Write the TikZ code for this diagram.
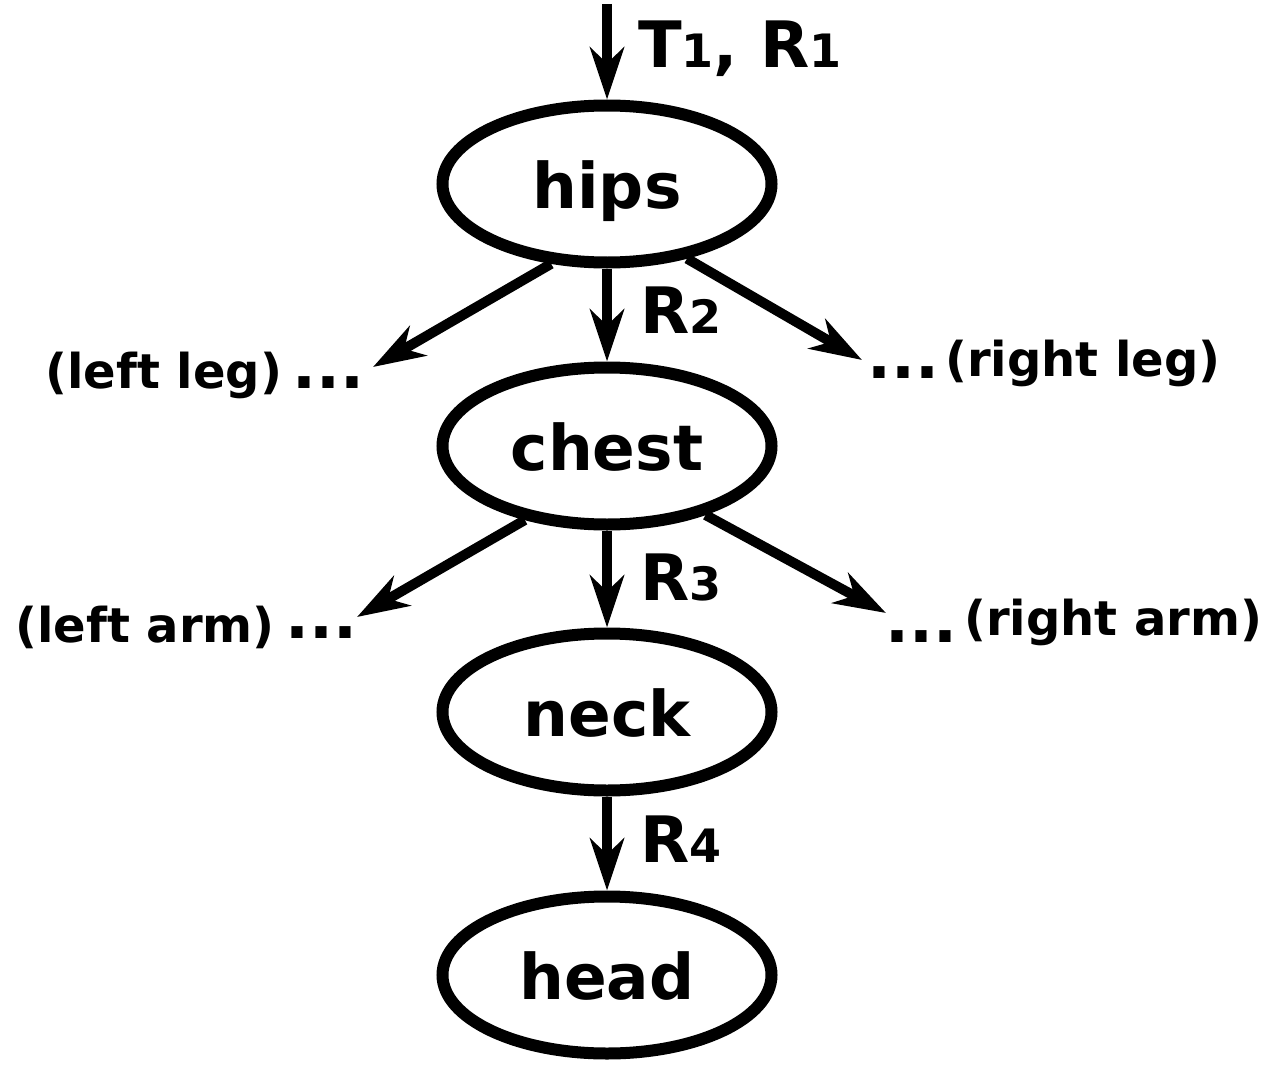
\documentclass[tikz,border=0pt]{standalone}
\usepackage{fontspec}
\setmainfont{DejaVu Sans}
\usetikzlibrary{shapes.geometric,arrows.meta}
\newcommand\subd[1]{{\fontsize{46}{46}\selectfont #1}}
\begin{document}
\begin{tikzpicture}[x=1pt,y=-1pt,
 part/.style={ellipse,draw,line width=12pt,minimum width=329pt,minimum height=157pt,inner sep=0pt,font=\fontsize{63}{63}\selectfont\bfseries,text height=48pt,text depth=0pt},
 conn/.style={line width=10pt,-{Stealth[length=52pt,width=34pt,inset=16pt]}},
 lab/.style={anchor=base west,inner sep=0pt,font=\fontsize{64}{64}\selectfont\bfseries},
 side/.style={anchor=base west,inner sep=0pt,font=\fontsize{48}{48}\selectfont\bfseries},
 dotsx/.style={anchor=base west,inner sep=0pt,font=\fontsize{63}{63}\selectfont\bfseries}]
\useasboundingbox (0,0) rectangle (1283,1065);
\node[part] (hips) at (607,184) {hips};
\node[part] (chest) at (607,446) {chest};
\node[part] (neck) at (607,712) {neck};
\node[part] (head) at (607,975) {head};
\coordinate (top) at (607,4);
\coordinate (llegtip) at (373,367);
\coordinate (rlegtip) at (862,360);
\coordinate (larmtip) at (357,617);
\coordinate (rarmtip) at (886,613);
\draw[conn] (top) -- (hips.north);
\draw[conn] (hips.south) -- (chest.north);
\draw[conn] (chest.south) -- (neck.north);
\draw[conn] (neck.south) -- (head.north);
\draw[conn] (hips.235) -- (llegtip);
\draw[conn] (hips.317) -- (rlegtip);
\draw[conn] (chest.222) -- (larmtip);
\draw[conn] (chest.325) -- (rarmtip);
\node[side] (lleg) at (45,388) {(left leg)};
\node[dotsx] (llegd) at (292,388) {...};
\node[dotsx] (rlegd) at (867,378) {...};
\node[side] (rleg) at (945,376) {(right leg)};
\node[side] (larm) at (15,642) {(left arm)};
\node[dotsx] (larmd) at (285,638) {...};
\node[dotsx] (rarmd) at (885,642) {...};
\node[side] (rarm) at (964,635) {(right arm)};
\node[lab] (l1) at (638,68) {T\subd{1}, R\subd{1}};
\node[lab] (l2) at (640,333) {R\subd{2}};
\node[lab] (l3) at (640,600) {R\subd{3}};
\node[lab] (l4) at (640,862) {R\subd{4}};
\end{tikzpicture}
\end{document}
